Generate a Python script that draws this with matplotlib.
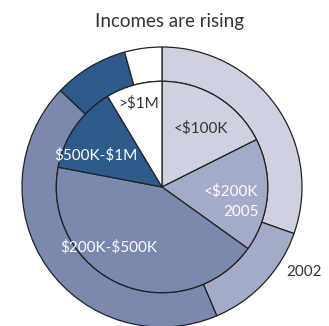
import matplotlib.pyplot as plt

# income brackets, share of filers (%) read clockwise from 12 o'clock
categories = ['<$100K', '<$200K', '$200K-$500K', '$500K-$1M', '>$1M']
share_2002 = [30.4, 13.2, 43.5, 8.6, 4.3]
share_2005 = [17.6, 17.3, 43.1, 13.4, 8.6]
colors = ['#cfd1e0', '#a4abc8', '#7b89ae', '#2e5b8c', '#ffffff']

plt.rcParams['font.family'] = ['Lato', 'DejaVu Sans']
plt.rcParams['text.parse_math'] = False  # dollar signs are literal

fig = plt.figure(figsize=(3.29, 3.26), dpi=100)
ax = fig.add_axes([0, 0, 1, 1])

edge = dict(edgecolor='#222222', linewidth=0.9)
r_in = 0.755

# 2002 as the outer ring, 2005 as the inner pie
ax.pie(share_2002, colors=colors, startangle=90, counterclock=False,
       radius=1.0, wedgeprops=dict(width=1.0 - r_in, **edge))
ax.pie(share_2005, colors=colors, startangle=90, counterclock=False,
       radius=r_in, wedgeprops=edge)

# keep centre at (162, 187) px, 140 px per unit
ax.set_xlim(-162 / 140, (329 - 162) / 140)
ax.set_ylim(-139 / 140, (326 - 139) / 140)
ax.set_aspect('auto')
ax.axis('off')

fs = 11
dark = '#333333'
ax.text(-0.17, 0.60, categories[4], color=dark, fontsize=fs, ha='center', va='center')
ax.text(0.28, 0.42, categories[0], color=dark, fontsize=fs, ha='center', va='center')
ax.text(0.69, -0.03, categories[1], color='white', fontsize=fs, ha='right', va='center')
ax.text(0.69, -0.18, '2005', color='white', fontsize=fs, ha='right', va='center')
ax.text(-0.47, 0.23, categories[3], color='white', fontsize=fs, ha='center', va='center')
ax.text(-0.38, -0.43, categories[2], color='white', fontsize=fs, ha='center', va='center')
ax.text(1.14, -0.61, '2002', color=dark, fontsize=fs, ha='right', va='center')

fig.text(169 / 329, 1 - 21 / 326, 'Incomes are rising', color=dark,
         fontsize=13.5, ha='center', va='center')

fig.savefig('out.png', dpi=100)
